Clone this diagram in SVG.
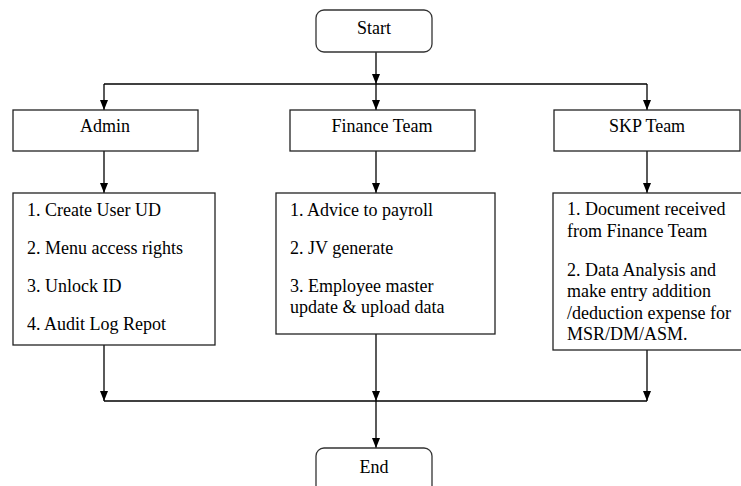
<svg xmlns="http://www.w3.org/2000/svg" width="741" height="486" viewBox="0 0 741 486">
<style>
.t{font-family:'Liberation Serif','DejaVu Serif','Times New Roman',serif;font-size:18px;fill:#000}
.c{text-anchor:middle}
.box{fill:#fff;stroke:#222;stroke-width:1.3}
.term{fill:#fff;stroke:#333;stroke-width:1.3}
.ln{fill:none;stroke:#000;stroke-width:1.3}
</style>
<defs>
<marker id="ah" viewBox="0 0 10 8" refX="10" refY="4" markerWidth="10" markerHeight="8" markerUnits="userSpaceOnUse" orient="auto">
<path d="M0,0 L10,4 L0,8 z" fill="#000"/>
</marker>
</defs>
<rect width="741" height="486" fill="#fff"/>
<g id="connectors">
<path class="ln" d="M376,52 V84" marker-end="url(#ah)"/>
<path class="ln" d="M104,84 H647"/>
<path class="ln" d="M104,84 V110" marker-end="url(#ah)"/>
<path class="ln" d="M376,84 V110" marker-end="url(#ah)"/>
<path class="ln" d="M647,84 V110" marker-end="url(#ah)"/>
<path class="ln" d="M104,151 V193" marker-end="url(#ah)"/>
<path class="ln" d="M376,151 V193" marker-end="url(#ah)"/>
<path class="ln" d="M647,151 V193" marker-end="url(#ah)"/>
<path class="ln" d="M104,345 V401" marker-end="url(#ah)"/>
<path class="ln" d="M376,334 V401" marker-end="url(#ah)"/>
<path class="ln" d="M647,350 V401" marker-end="url(#ah)"/>
<path class="ln" d="M104,401 H647"/>
<path class="ln" d="M376,401 V448" marker-end="url(#ah)"/>
</g>
<g id="start">
<rect class="term" x="316" y="10" width="116" height="42" rx="8"/>
<text class="t c" x="374" y="34">Start</text>
</g>
<g id="admin">
<rect class="box" x="13" y="110" width="185" height="41"/>
<text class="t c" x="105" y="132">Admin</text>
</g>
<g id="finance">
<rect class="box" x="290" y="110" width="185" height="41"/>
<text class="t c" x="382" y="132">Finance Team</text>
</g>
<g id="skp">
<rect class="box" x="554" y="110" width="186" height="41"/>
<text class="t c" x="647" y="132">SKP Team</text>
</g>
<g id="admin-tasks">
<rect class="box" x="13" y="193" width="202" height="152"/>
<text class="t" x="27" y="216">1. Create User UD</text>
<text class="t" x="27" y="254">2. Menu access rights</text>
<text class="t" x="27" y="292">3. Unlock ID</text>
<text class="t" x="27" y="330">4. Audit Log Repot</text>
</g>
<g id="finance-tasks">
<rect class="box" x="276" y="193" width="219" height="141"/>
<text class="t" x="290" y="216">1. Advice to payroll</text>
<text class="t" x="290" y="254">2. JV generate</text>
<text class="t" x="290" y="292">3. Employee master</text>
<text class="t" x="290" y="313">update &amp; upload data</text>
</g>
<g id="skp-tasks">
<rect class="box" x="553" y="193" width="195" height="157"/>
<text class="t" x="567" y="215">1. Document received</text>
<text class="t" x="567" y="237">from Finance Team</text>
<text class="t" x="567" y="276">2. Data Analysis and</text>
<text class="t" x="567" y="297">make entry addition</text>
<text class="t" x="567" y="319">/deduction expense for</text>
<text class="t" x="567" y="340">MSR/DM/ASM.</text>
</g>
<g id="end">
<rect class="term" x="316" y="448" width="116" height="50" rx="8"/>
<text class="t c" x="374" y="473">End</text>
</g>
</svg>
